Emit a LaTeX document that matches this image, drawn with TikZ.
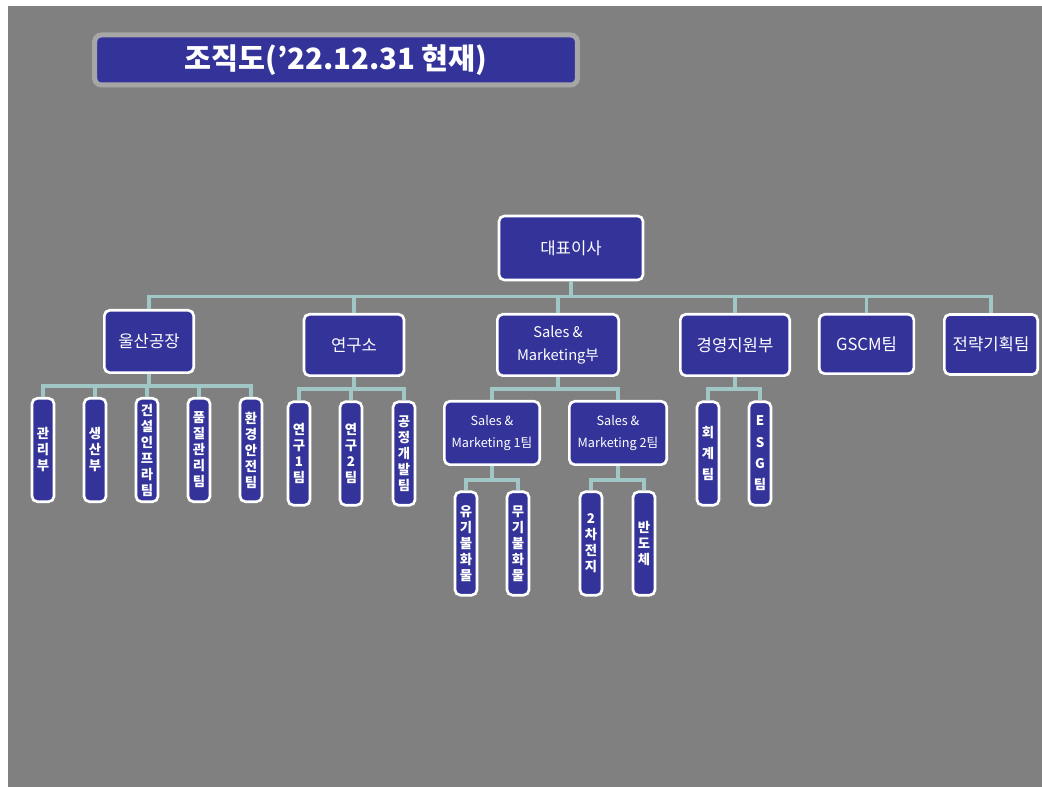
\documentclass[tikz,border=0pt]{standalone}
\usepackage{fontspec}
\setmainfont{Noto Sans CJK KR}
\usetikzlibrary{positioning}
\definecolor{orgblue}{RGB}{51,51,153}
\definecolor{bg}{RGB}{128,128,128}
\definecolor{linkcol}{RGB}{160,198,198}
\definecolor{titlerim}{RGB}{166,166,166}
\tikzset{
  box/.style={draw=white,line width=2pt,fill=orgblue,rounded corners=4pt,text=white,align=center,inner sep=1pt},
  dept/.style={box,font=\fontsize{12.5}{17}\selectfont},
  team/.style={box,font=\fontsize{9.5}{16}\selectfont,minimum height=47.5pt},
  vbox/.style={box,minimum width=16.5pt,minimum height=77.5pt,font=\bfseries\fontsize{10}{12}\selectfont},
  wide/.style={font=\bfseries\fontsize{10}{16}\selectfont},
  link/.style={draw=linkcol,line width=2.5pt},
}

\begin{document}
\begin{tikzpicture}[x=0.75pt,y=-0.75pt]
\useasboundingbox (0,0) rectangle (1042,787);
\fill[bg] (8,6) rectangle (1042,787);

% Title bar
\node[box,draw=titlerim,line width=3.75pt,rounded corners=5pt,minimum width=362pt,minimum height=37.5pt,
  font=\bfseries\fontsize{22}{26}\selectfont] (title) at (336,60) {조직도(’22.12.31 현재)};

% Top and second row
\node[dept,minimum width=108pt,minimum height=48pt] (ceo) at (571,248) {대표이사};
\node[dept,minimum width=67pt,minimum height=46.75pt] (plant) at (149,341.5) {울산공장};
\node[dept,minimum width=75pt,minimum height=46pt] (lab) at (354,345) {연구소};
\node[dept,minimum width=91pt,minimum height=46pt,font=\fontsize{11}{17}\selectfont] (sales) at (558,345) {Sales \&\\Marketing부};
\node[dept,minimum width=82pt,minimum height=46pt] (mgmt) at (735,345) {경영지원부};
\node[dept,minimum width=71pt,minimum height=44.5pt] (gscm) at (866.5,344) {GSCM팀};
\node[dept,minimum width=70pt,minimum height=45pt] (plan) at (991,344.5) {전략기획팀};

% Draw links from the top
\draw[link] (ceo.south) -- ++(0,15) -| (plant.north);
\draw[link] (ceo.south) -- ++(0,15) -| (lab.north);
\draw[link] (ceo.south) -- ++(0,15) -| (sales.north);
\draw[link] (ceo.south) -- ++(0,15) -| (mgmt.north);
\draw[link] (ceo.south) -- ++(0,15) -| (gscm.north);
\draw[link] (ceo.south) -- ++(0,15) -| (plan.north);

% Plant departments
\node[vbox] (admin) at (43,450) {관\\리\\부};
\node[vbox] (prod) at (95,450) {생\\산\\부};
\node[vbox] (infra) at (147,450) {건\\설\\인\\프\\라\\팀};
\node[vbox] (qual) at (199,450) {품\\질\\관\\리\\팀};
\node[vbox] (safe) at (251,450) {환\\경\\안\\전\\팀};
\draw[link] (plant.south) -- ++(0,12) -| (admin.north);
\draw[link] (plant.south) -- ++(0,12) -| (prod.north);
\draw[link] (plant.south) -- ++(0,12) -| (infra.north);
\draw[link] (plant.south) -- ++(0,12) -| (qual.north);
\draw[link] (plant.south) -- ++(0,12) -| (safe.north);

% Lab teams
\node[vbox] (rd1) at (299,453.5) {연\\구\\1\\팀};
\node[vbox] (rd2) at (351,453.5) {연\\구\\2\\팀};
\node[vbox] (proc) at (404,453.5) {공\\정\\개\\발\\팀};
\draw[link] (lab.south) -- ++(0,12) -| (rd1.north);
\draw[link] (lab.south) -- ++(0,12) -| (rd2.north);
\draw[link] (lab.south) -- ++(0,12) -| (proc.north);

% Sales teams
\node[team,minimum width=71.5pt] (sm1) at (492,433) {Sales \&\\Marketing 1팀};
\node[team,minimum width=73pt] (sm2) at (618,433) {Sales \&\\Marketing 2팀};
\draw[link] (sales.south) -- ++(0,12) -| (sm1.north);
\draw[link] (sales.south) -- ++(0,12) -| (sm2.north);

\node[vbox] (org) at (466,543.5) {유\\기\\불\\화\\물};
\node[vbox] (inorg) at (518,543.5) {무\\기\\불\\화\\물};
\node[vbox] (batt) at (591,543.5) {2\\차\\전\\지};
\node[vbox] (semi) at (644,543.5) {반\\도\\체};
\draw[link] (sm1.south) -- ++(0,14) -| (org.north);
\draw[link] (sm1.south) -- ++(0,14) -| (inorg.north);
\draw[link] (sm2.south) -- ++(0,14) -| (batt.north);
\draw[link] (sm2.south) -- ++(0,14) -| (semi.north);

% Support teams
\node[vbox,wide] (acct) at (708,453.5) {회\\계\\팀};
\node[vbox,wide] (esg) at (760,453.5) {E\\S\\G\\팀};
\draw[link] (mgmt.south) -- ++(0,12) -| (acct.north);
\draw[link] (mgmt.south) -- ++(0,12) -| (esg.north);
\end{tikzpicture}
\end{document}
